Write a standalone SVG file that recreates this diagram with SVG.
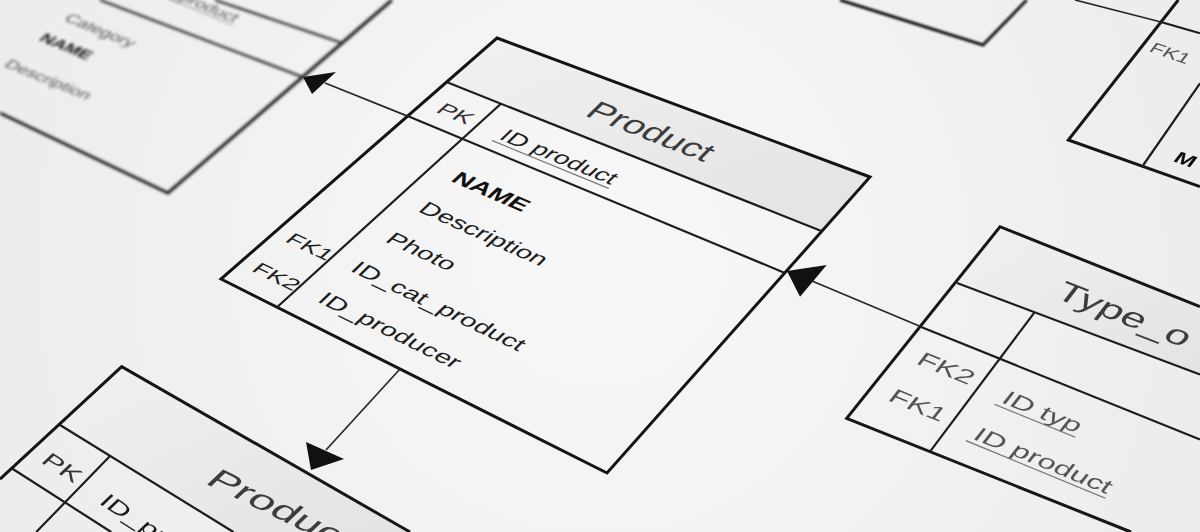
<svg xmlns="http://www.w3.org/2000/svg" width="1200" height="532" viewBox="0 0 1200 532">
<defs>
<radialGradient id="bg" cx="600" cy="260" r="720" gradientUnits="userSpaceOnUse"><stop offset="0" stop-color="#f8f8f8"/><stop offset="1" stop-color="#ebebeb"/></radialGradient>
<linearGradient id="hg" x1="0" y1="0" x2="1" y2="1"><stop offset="0" stop-color="#f1f1f1"/><stop offset="1" stop-color="#e3e3e3"/></linearGradient>
<filter id="blur3" filterUnits="userSpaceOnUse" x="-20" y="-20" width="1240" height="572"><feGaussianBlur stdDeviation="1.8"/></filter>
<filter id="blur2" filterUnits="userSpaceOnUse" x="-20" y="-20" width="1240" height="572"><feGaussianBlur stdDeviation="1.1"/></filter>
<filter id="blur1" filterUnits="userSpaceOnUse" x="-20" y="-20" width="1240" height="572"><feGaussianBlur stdDeviation="0.7"/></filter>
<style>
.edge{fill:none;stroke:#141414;stroke-width:3;stroke-linejoin:miter}
.ln{fill:none;stroke:#1c1c1c;stroke-width:2.2}
.cn{fill:none;stroke:#262626;stroke-width:1.7}
.ar{fill:#111}
.hdr{fill:url(#hg)}
.tx{font-family:"Liberation Sans",Arial,sans-serif;font-size:19.5px;fill:#1e1e1e}
.ti{font-size:28px;fill:#3c3c3c}
.b{font-weight:bold;fill:#111}
.k{fill:#333}
.g{fill:#555}
.fk{font-size:18px}
.ul{stroke:#777;stroke-width:1.2}
</style>
</defs>
<rect x="0" y="0" width="1200" height="532" fill="url(#bg)"/>

<g id="node-category" filter="url(#blur3)">
<polyline class="edge" points="392,0 168,193 0,113"/>
<line class="ln" x1="215" y1="0" x2="342" y2="43"/>
<line class="ln" x1="100" y1="0" x2="302.6" y2="77"/>
<g transform="matrix(0.85 0.35 -0.6 0.52 121 -24)"><text class="tx g">ID_cat_product</text><line class="ul" x1="-2" y1="4" x2="134" y2="4"/></g>
<text class="tx g" transform="matrix(0.85 0.35 -0.6 0.52 63 20)">Category</text>
<text class="tx b" transform="matrix(0.85 0.35 -0.6 0.52 38 40)">NAME</text>
<text class="tx g" transform="matrix(0.85 0.35 -0.6 0.52 3 66)">Description</text>
</g>

<g id="node-topcenter" filter="url(#blur2)">
<polyline class="edge" points="840,0 983,45 1026.7,0"/>
</g>

<g id="node-topright" filter="url(#blur1)">
<polyline class="edge" points="1178.3,0 1068.3,140 1200,186.7"/>
<line class="ln" x1="1160" y1="21.7" x2="1200" y2="33.3"/>
<line class="ln" x1="1200" y1="83.3" x2="1143.3" y2="165"/>
<text class="tx g" style="font-size:16px" transform="matrix(1.3 0.45 -0.62 0.8 1148 51)">FK1</text>
<text class="tx b" style="font-size:18px" transform="matrix(1.3 0.45 -0.62 0.8 1172 161)">M</text>
</g>

<g id="node-product">
<polygon class="hdr" points="497,38 870,177 821.9,231.2 446.5,82.1"/>
<polygon class="edge" points="497,38 870,177 607,473 221,279"/>
<line class="ln" x1="446.5" y1="82.1" x2="821.9" y2="231.2"/>
<line class="ln" x1="407.6" y1="116.1" x2="784.8" y2="272.9"/>
<line class="ln" x1="500.9" y1="103.8" x2="277" y2="307.2"/>
<text class="tx ti" transform="matrix(1.249 0.486 -0.775 0.768 583.5 115.2)">Product</text>
<text class="tx k" style="font-size:19px" transform="matrix(1.254 0.509 -0.790 0.705 434.7 111.7)">PK</text>
<g transform="matrix(1.255 0.515 -0.780 0.749 497.7 138.6)"><text class="tx">ID product</text><line class="ul" x1="-2" y1="4" x2="91" y2="4"/></g>
<text class="tx b" transform="matrix(1.263 0.546 -0.784 0.732 449.7 180.8)">NAME</text>
<text class="tx" transform="matrix(1.268 0.568 -0.780 0.749 416.9 211.1)">Description</text>
<text class="tx" transform="matrix(1.273 0.59 -0.784 0.732 384 241.3)">Photo</text>
<text class="tx" transform="matrix(1.278 0.612 -0.778 0.756 349.3 270.6)">ID_cat_product</text>
<text class="tx" transform="matrix(1.284 0.634 -0.780 0.748 316.2 301.2)">ID_producer</text>
<text class="tx fk" transform="matrix(1.278 0.61 -0.790 0.704 284 241)">FK1</text>
<text class="tx fk" transform="matrix(1.284 0.634 -0.790 0.704 250.5 270.5)">FK2</text>
</g>

<g id="node-type" filter="url(#blur1)">
<polygon class="hdr" points="1000,226.7 1200,306.7 1200,374.5 957,283"/>
<polyline class="edge" points="1200,306.7 1000,226.7 846.7,418.3 1131,532"/>
<line class="ln" x1="957" y1="283" x2="1200" y2="374.5"/>
<line class="ln" x1="920.5" y1="326.7" x2="1200" y2="439.6"/>
<line class="ln" x1="1034.9" y1="311.8" x2="930" y2="451.7"/>
<text class="tx ti" transform="matrix(1.42 0.55 -0.66 0.85 1053 297)">Type_o</text>
<text class="tx g" transform="matrix(1.50 0.61 -0.68 0.87 915 363.3)">FK2</text>
<text class="tx g" transform="matrix(1.50 0.62 -0.68 0.87 886.7 400)">FK1</text>
<g transform="matrix(1.50 0.61 -0.68 0.87 1000 402)"><text class="tx g">ID typ</text><line class="ul" x1="-2" y1="4" x2="52" y2="4"/></g>
<g transform="matrix(1.50 0.62 -0.68 0.87 971.6 438.4)"><text class="tx g">ID product</text><line class="ul" x1="-2" y1="4" x2="91" y2="4"/></g>
</g>

<g id="node-producer" filter="url(#blur1)">
<polygon class="hdr" points="121.7,366.7 410,532 233.4,532 60,425"/>
<polyline class="edge" points="410,532 121.7,366.7 0,479.1"/>
<line class="ln" x1="60" y1="425" x2="233.4" y2="532"/>
<line class="ln" x1="11.7" y1="468.3" x2="111.2" y2="532"/>
<line class="ln" x1="110" y1="456" x2="36.3" y2="532"/>
<text class="tx ti" transform="matrix(1.45 0.70 -0.82 0.78 204 483)">Product</text>
<text class="tx k" transform="matrix(1.30 0.82 -0.80 0.76 40 462)">PK</text>
<text class="tx" transform="matrix(1.30 0.84 -0.80 0.76 98 503)">ID_pro</text>
</g>

<g id="connectors">
<line class="cn" x1="921" y1="326.7" x2="812" y2="281"/>
<polygon class="ar" points="787,271 826.7,265 800,296.7"/>
<line class="cn" x1="407.6" y1="116.1" x2="325" y2="83"/>
<polygon class="ar" points="303,77 336,72 312,94"/>
<line class="cn" x1="400" y1="369" x2="326" y2="450"/>
<polygon class="ar" points="311,470 306,442 344,459"/>
<line class="cn" x1="1075" y1="0" x2="1160" y2="21.7"/>
</g>
</svg>
